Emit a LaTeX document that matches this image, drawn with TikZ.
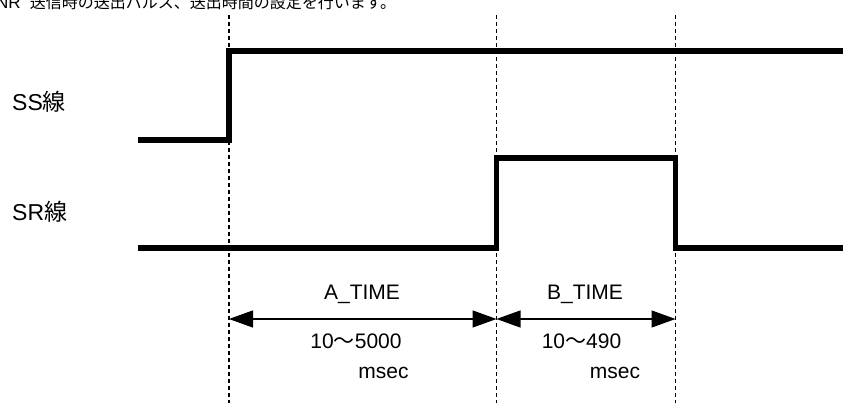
\documentclass[tikz,border=0pt]{standalone}
\usepackage{fontspec}
\setmainfont{Liberation Sans}
\newfontfamily\cjk{Noto Sans CJK JP}
\usetikzlibrary{arrows.meta}
\begin{document}
\begin{tikzpicture}[x=1pt,y=-1pt,
  sig/.style={line width=5.5pt, line join=miter},
  guide/.style={line width=1.1pt, dash pattern=on 4pt off 3pt},
  dim/.style={line width=1.3pt, {Triangle[length=24pt,width=17pt]}-{Triangle[length=24pt,width=17pt]}},
  lbl/.style={font=\fontsize{21}{21}\selectfont, inner sep=0pt, anchor=base},
  side/.style={font=\fontsize{23}{23}\selectfont, inner sep=0pt, anchor=base west},
]
\useasboundingbox (0,0) rectangle (843,403);
\clip (0,0) rectangle (843,403);
\fill[white] (0,0) rectangle (843,403);
\node[anchor=base west, inner sep=0pt, font=\fontsize{17}{17}\selectfont] (title) at (-4,8.5) {NR\hspace{9pt}{\cjk\fontsize{16}{16}\selectfont 送信時の送出パルス、送出時間の設定を行います。}};
% guide lines
\coordinate (ta1) at (229,15); \coordinate (ta2) at (229,403);
\coordinate (tb1) at (496.5,15); \coordinate (tb2) at (496.5,403);
\coordinate (tc1) at (675.5,15); \coordinate (tc2) at (675.5,403);
\draw[guide] (ta1) -- (ta2);
\draw[guide] (tb1) -- (tb2);
\draw[guide] (tc1) -- (tc2);
% SS signal
\coordinate (ssL) at (138,140); \coordinate (ssR) at (843,51);
\draw[sig] (ssL) -- (ssL -| ta1) |- (ssR);
% SR signal
\coordinate (srL) at (138,248); \coordinate (srR) at (843,248); \coordinate (srH) at (0,158);
\draw[sig] (srL) -- (srL -| tb1) -- (srH -| tb1) -- (srH -| tc1) -- (srL -| tc1) -- (srR);
% labels
\node[side] (ss) at (12,111) {SS{\cjk 線}};
\node[side] (sr) at (12,221) {SR{\cjk 線}};
% dimensions
\coordinate (dimY) at (0,319);
\draw[dim] (dimY -| ta1) -- (dimY -| tb1);
\draw[dim] (dimY -| tb1) -- (dimY -| tc1);
\node[lbl] (at) at (362,300) {A\_TIME};
\node[lbl] (bt) at (585,300) {B\_TIME};
\node[lbl] (av) at (356,348) {10{\cjk 〜}5000};
\node[lbl] (bv) at (581.5,348) {10{\cjk 〜}490};
\node[lbl] (au) at (383.5,378) {msec};
\node[lbl] (bu) at (615,378) {msec};
\end{tikzpicture}
\end{document}
